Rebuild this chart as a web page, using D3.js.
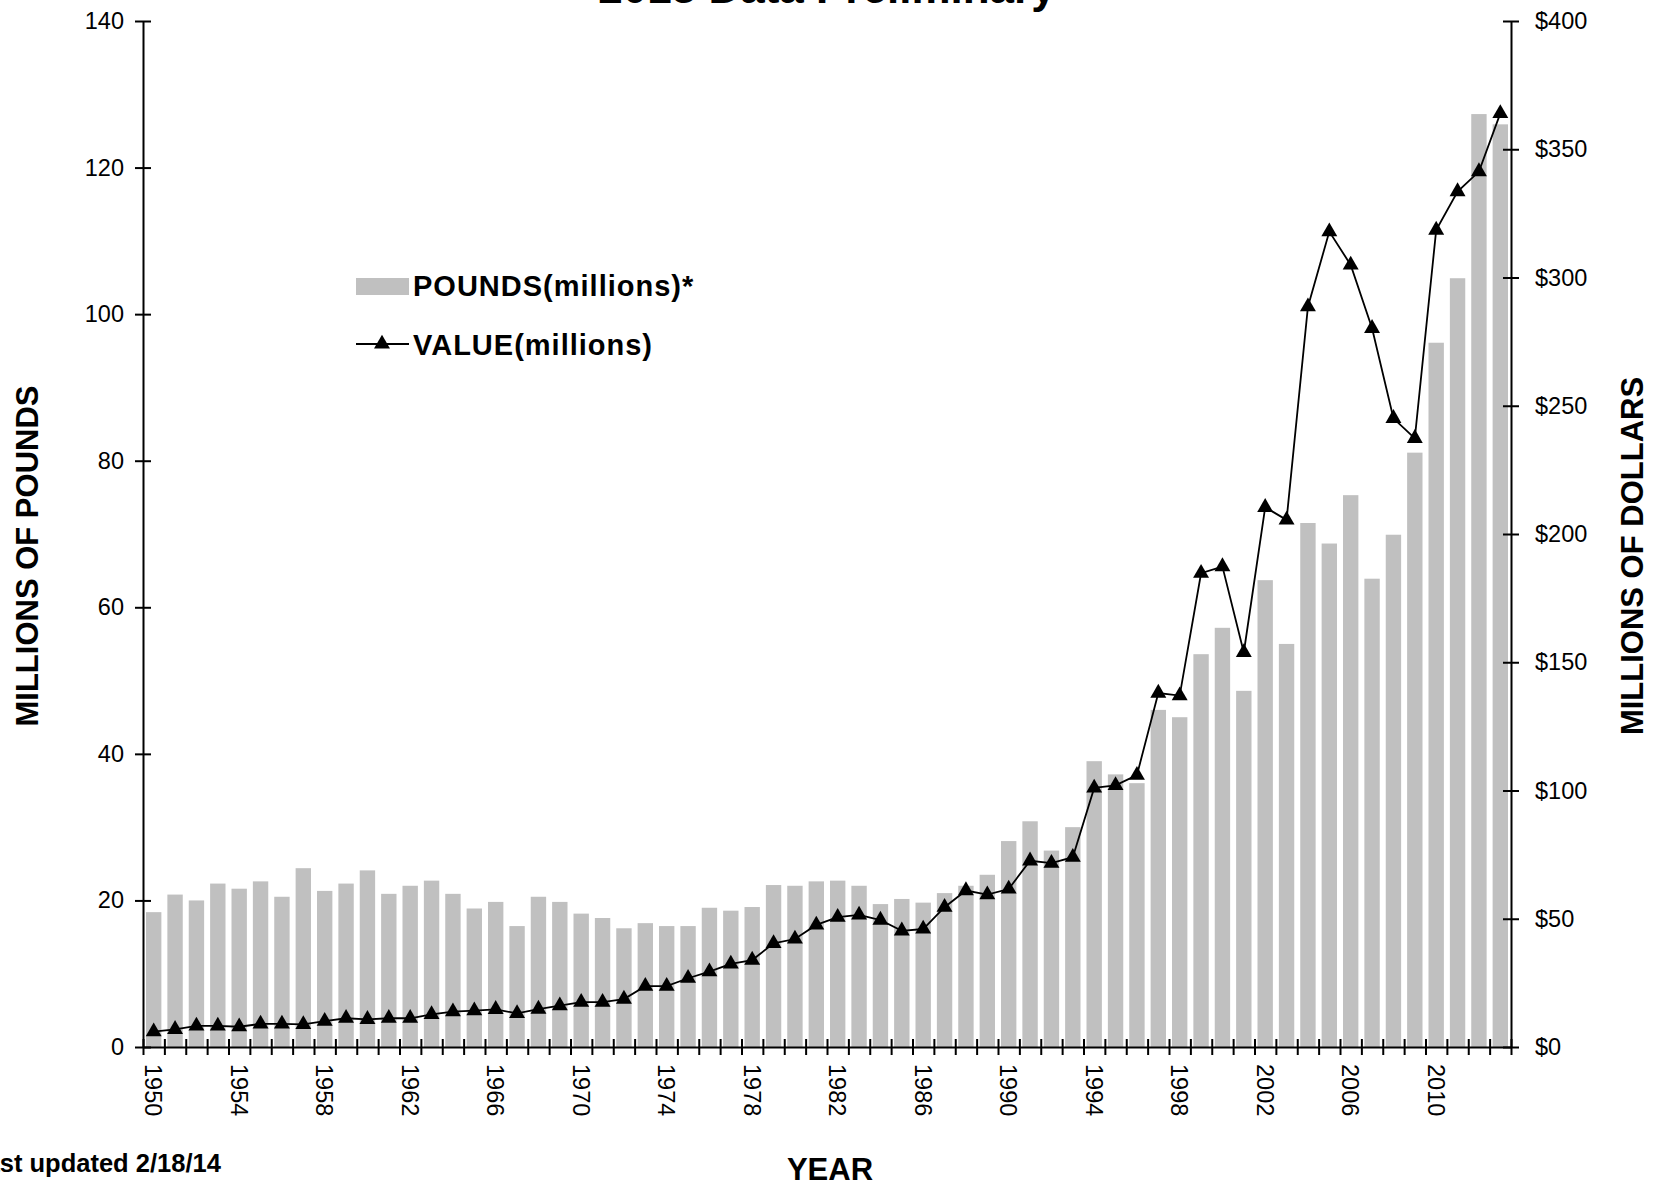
<!DOCTYPE html>
<html>
<head>
<meta charset="utf-8">
<script src="https://cdn.jsdelivr.net/npm/d3@7"></script>
<style>
  body { margin: 0; background: #fff; }
  svg { display: block; font-family: "Liberation Sans", Arial, sans-serif; }
</style>
</head>
<body>
<svg id="chart" width="1656" height="1186"></svg>
<script>
// years 1950 - 2013
const years = d3.range(1950, 2014);

// landings, millions of pounds (bars, left axis)
const pounds = [
  18.4, 20.8, 20.0, 22.3, 21.6, 22.6, 20.5, 24.4, 21.3, 22.3,
  24.1, 20.9, 22.0, 22.7, 20.9, 18.9, 19.8, 16.5, 20.5, 19.8,
  18.2, 17.6, 16.2, 16.9, 16.5, 16.5, 19.0, 18.6, 19.1, 22.1,
  22.0, 22.6, 22.7, 22.0, 19.5, 20.2, 19.7, 21.0, 22.0, 23.5,
  28.1, 30.8, 26.8, 30.0, 39.0, 37.2, 36.0, 46.0, 45.0, 53.6,
  57.2, 48.6, 63.7, 55.0, 71.5, 68.7, 75.3, 63.9, 69.9, 81.1,
  96.1, 104.9, 127.3, 125.9
];

// value, millions of dollars (line, right axis)
const dollars = [
  6.0, 6.9, 8.2, 8.2, 7.9, 9.0, 9.0, 8.8, 10.1, 11.2,
  10.8, 11.2, 11.2, 12.7, 13.8, 14.2, 14.7, 13.1, 14.8, 16.1,
  17.5, 17.5, 18.7, 23.7, 23.7, 26.8, 29.4, 32.4, 33.9, 40.4,
  42.1, 47.6, 50.6, 51.5, 49.5, 45.3, 46.0, 54.5, 61.0, 59.4,
  61.6, 72.6, 71.7, 74.0, 101, 102, 106, 138, 137, 184.7,
  187.3, 153.8, 210.4, 205.5, 288.6, 317.9, 304.9, 280.2, 245.1, 237.3,
  318.5, 333.5, 341.3, 364
];

const leftTicks = [0, 20, 40, 60, 80, 100, 120, 140];
const rightTicks = [0, 50, 100, 150, 200, 250, 300, 350, 400];
const yearLabels = years.filter(y => (y - 1950) % 4 === 0);

const data = years.map((y, i) => ({ year: y, pounds: pounds[i], dollars: dollars[i] }));

// plot area
const plotL = 143, plotR = 1511, plotT = 21, plotB = 1047;

const svg = d3.select("#chart");

const x = d3.scaleBand()
    .domain(years)
    .range([plotL, plotR])
    .paddingInner(0.28)
    .paddingOuter(0.14);

const yL = d3.scaleLinear().domain([0, 140]).range([plotB, plotT]);
const yR = d3.scaleLinear().domain([0, 400]).range([plotB, plotT]);

// bars
svg.append("g")
    .selectAll("rect")
    .data(data)
    .join("rect")
    .attr("x", d => x(d.year))
    .attr("y", d => yL(d.pounds))
    .attr("width", x.bandwidth())
    .attr("height", d => plotB - yL(d.pounds))
    .attr("fill", "#c0c0c0");

// line + triangles
const cx = d => x(d.year) + x.bandwidth() / 2;
const line = d3.line().x(cx).y(d => yR(d.dollars));

svg.append("path")
    .datum(data)
    .attr("d", line)
    .attr("fill", "none")
    .attr("stroke", "#000")
    .attr("stroke-width", 1.8);

const tri = d3.symbol().type(d3.symbolTriangle).size(110);
svg.append("g")
    .selectAll("path")
    .data(data)
    .join("path")
    .attr("d", tri)
    .attr("transform", d => `translate(${cx(d)},${yR(d.dollars)})`)
    .attr("fill", "#000");

// left axis
const gL = svg.append("g")
    .attr("transform", `translate(${plotL},0)`)
    .call(d3.axisLeft(yL).tickValues(leftTicks).tickSize(8).tickSizeOuter(0).tickPadding(11));
gL.selectAll(".tick line").attr("x1", 8);

// right axis
const gR = svg.append("g")
    .attr("transform", `translate(${plotR},0)`)
    .call(d3.axisRight(yR).tickValues(rightTicks).tickSize(8).tickSizeOuter(0).tickPadding(16)
        .tickFormat(d => "$" + d));
gR.selectAll(".tick line").attr("x1", -8);

// x axis: tick marks at category boundaries
const xb = d3.scaleLinear().domain([0, years.length]).range([plotL, plotR]);
const gX = svg.append("g")
    .attr("transform", `translate(0,${plotB})`)
    .call(d3.axisBottom(xb).tickValues(d3.range(years.length + 1)).tickSize(8).tickSizeOuter(0).tickFormat(""));
gX.selectAll(".tick line").attr("y1", -8);

// x labels every 4 years, rotated
const gXL = svg.append("g")
    .attr("transform", `translate(0,${plotB})`)
    .call(d3.axisBottom(x).tickValues(yearLabels).tickSize(0));
gXL.select(".domain").remove();
gXL.selectAll("text")
    .attr("transform", "rotate(90)")
    .attr("x", 17)
    .attr("y", 0)
    .attr("dy", "0.35em")
    .attr("text-anchor", "start");

svg.selectAll(".domain, .tick line").attr("stroke", "#000").attr("stroke-width", 2);
svg.selectAll(".tick text").attr("font-size", 23.5).attr("fill", "#000")
    .attr("font-family", "Liberation Sans, Arial, sans-serif");

// title (cut at the top edge, as in the source image)
svg.append("text")
    .attr("x", (plotL + plotR) / 2)
    .attr("y", 3)
    .attr("text-anchor", "middle")
    .attr("font-size", 44)
    .attr("font-weight", "bold")
    .text("2013 Data Preliminary");

// axis titles
svg.append("text")
    .attr("transform", "translate(38,556) rotate(-90)")
    .attr("text-anchor", "middle")
    .attr("font-size", 31)
    .attr("font-weight", "bold")
    .text("MILLIONS OF POUNDS");

svg.append("text")
    .attr("transform", "translate(1643,556) rotate(-90)")
    .attr("text-anchor", "middle")
    .attr("font-size", 31)
    .attr("font-weight", "bold")
    .text("MILLIONS OF DOLLARS");

svg.append("text")
    .attr("x", 830)
    .attr("y", 1180)
    .attr("text-anchor", "middle")
    .attr("font-size", 31)
    .attr("font-weight", "bold")
    .text("YEAR");

svg.append("text")
    .attr("x", -30)
    .attr("y", 1172)
    .attr("font-size", 25.5)
    .attr("font-weight", "bold")
    .text("Last updated 2/18/14");

// legend
const lg = svg.append("g").attr("font-size", 29).attr("font-weight", "bold").attr("letter-spacing", 1);
lg.append("rect").attr("x", 356).attr("y", 278).attr("width", 53).attr("height", 17).attr("fill", "#c0c0c0");
lg.append("text").attr("x", 413).attr("y", 296).text("POUNDS(millions)*");
lg.append("line").attr("x1", 356).attr("x2", 409).attr("y1", 344).attr("y2", 344)
    .attr("stroke", "#000").attr("stroke-width", 1.8);
lg.append("path").attr("d", tri).attr("transform", "translate(382,344)").attr("fill", "#000");
lg.append("text").attr("x", 413).attr("y", 355).text("VALUE(millions)");
</script>
</body>
</html>
